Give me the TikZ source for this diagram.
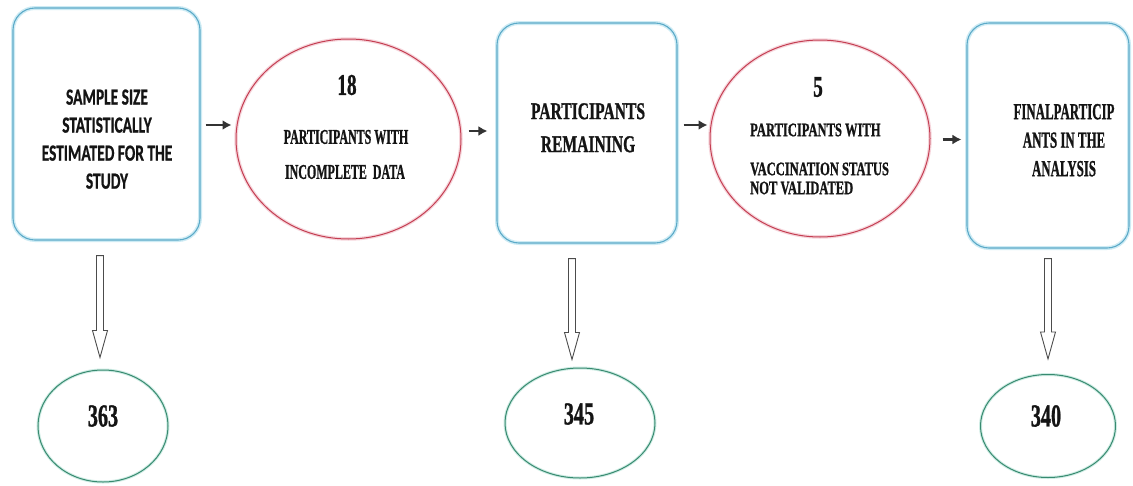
\documentclass[tikz,border=0pt]{standalone}
\usepackage{graphicx}
\usepackage{fontspec}
\setmainfont{Liberation Serif}[BoldFeatures={FakeBold=1.2}]
\newfontfamily\boxsans{Carlito}[BoldFeatures={FakeBold=1.0}]
\usetikzlibrary{arrows.meta,calc,shapes.geometric}

\definecolor{boxline}{RGB}{92,170,200}
\definecolor{boxglow}{RGB}{205,235,244}
\definecolor{dropline}{RGB}{196,62,82}
\definecolor{dropglow}{RGB}{246,214,220}
\definecolor{countline}{RGB}{56,138,112}
\definecolor{countglow}{RGB}{206,236,228}

% condensed multi-line text
\newcommand\squeeze[2]{\scalebox{#1}[1]{\begin{tabular}{@{}c@{}}#2\end{tabular}}}
\newcommand\squeezeline[2]{\scalebox{#1}[1]{#2}}

% hollow downward arrow between a stage box and its count
\newcommand\hollowdown[5]{%
  \draw[hollow] let \p1=(#1.south), \p2=(#2.north) in
    (#3pt-3.5pt,\y1-#4pt) -- (#3pt-3.5pt,\y2+#5pt+27pt) -- (#3pt-7.5pt,\y2+#5pt+27pt)
    -- (#3pt,\y2+#5pt) -- (#3pt+7.5pt,\y2+#5pt+27pt) -- (#3pt+3.5pt,\y2+#5pt+27pt)
    -- (#3pt+3.5pt,\y1-#4pt) -- cycle;}

\tikzset{
  stagebox/.style={rectangle, draw=boxline, line width=1.1pt, rounded corners=22pt,
    preaction={draw=boxglow, line width=4pt}, inner sep=0pt},
  dropell/.style={ellipse, draw=dropline, line width=1pt,
    preaction={draw=dropglow, line width=3.5pt}, inner sep=0pt},
  countell/.style={ellipse, draw=countline, line width=1pt,
    preaction={draw=countglow, line width=3pt}, inner sep=0pt},
  flow/.style={-{Latex[length=9pt,width=10pt]}, line width=2.6pt, black!80},
  hollow/.style={draw=black!70, line width=0.9pt, fill=white},
  txt/.style={inner sep=0pt, font=\bfseries, text=black!92},
}

\begin{document}
\begin{tikzpicture}[x=1pt,y=-1pt]
  \useasboundingbox[fill=white] (0,0) rectangle (1133,485);

  % stage boxes
  \node[stagebox, minimum width=187pt, minimum height=232pt] (b1) at (106.5,124) {};
  \node[stagebox, minimum width=180pt, minimum height=220pt] (b2) at (587,133) {};
  \node[stagebox, minimum width=162pt, minimum height=225pt] (b3) at (1048,135.5) {};

  % exclusion ellipses
  \node[dropell, minimum width=225pt, minimum height=200pt] (e1) at (348.5,139) {};
  \node[dropell, minimum width=220pt, minimum height=197pt] (e2) at (820,138.5) {};

  % counts
  \node[countell, minimum width=130pt, minimum height=112pt] (c1) at (103,426) {};
  \node[countell, minimum width=150pt, minimum height=110pt] (c2) at (580,423) {};
  \node[countell, minimum width=135pt, minimum height=103pt] (c3) at (1048,426) {};

  % box texts
  \node[txt, font=\boxsans\bfseries\fontsize{23}{28}\selectfont] (b1t) at (107,141)
    {\squeeze{0.67}{SAMPLE SIZE\\ STATISTICALLY\\ ESTIMATED FOR THE\\ STUDY}};
  \node[txt, font=\bfseries\fontsize{24}{33}\selectfont] (b2t) at (588,129)
    {\squeeze{0.65}{PARTICIPANTS\\ REMAINING}};
  \node[txt, font=\bfseries\fontsize{23}{28.5}\selectfont] (b3t) at (1064,142)
    {\squeeze{0.56}{FINALPARTICIP\\ ANTS IN THE\\ ANALYSIS}};

  % ellipse texts
  \node[txt, font=\bfseries\fontsize{30}{32}\selectfont] (e1n) at (347,85)
    {\squeezeline{0.64}{18}};
  \node[txt, font=\bfseries\fontsize{21}{24}\selectfont] (e1a) at (346,137)
    {\squeezeline{0.57}{PARTICIPANTS WITH}};
  \node[txt, font=\bfseries\fontsize{21}{24}\selectfont] (e1b) at (345,172)
    {\squeezeline{0.57}{INCOMPLETE \ DATA}};

  \node[txt, font=\bfseries\fontsize{30}{32}\selectfont] (e2n) at (818,87)
    {\squeezeline{0.64}{5}};
  \node[txt, font=\bfseries\fontsize{19}{22}\selectfont, anchor=west] (e2a) at (750,130)
    {\squeezeline{0.66}{PARTICIPANTS WITH}};
  \node[txt, font=\bfseries\fontsize{19}{22}\selectfont, anchor=west] (e2b) at (750,169)
    {\squeezeline{0.66}{VACCINATION STATUS}};
  \node[txt, font=\bfseries\fontsize{19}{22}\selectfont, anchor=west] (e2c) at (750,188)
    {\squeezeline{0.66}{NOT VALIDATED}};

  % count texts
  \node[txt, font=\bfseries\fontsize{32}{34}\selectfont] (c1t) at (103,416)
    {\squeezeline{0.63}{363}};
  \node[txt, font=\bfseries\fontsize{32}{34}\selectfont] (c2t) at (579,414)
    {\squeezeline{0.63}{345}};
  \node[txt, font=\bfseries\fontsize{32}{34}\selectfont] (c3t) at (1046,416)
    {\squeezeline{0.63}{340}};

  % flow arrows
  \draw[flow] ([xshift=5pt,yshift=-1pt]b1.east) -- ([xshift=-4pt,yshift=-1pt]b1.east -| e1.west);
  \draw[flow] ([xshift=7pt,yshift=8pt]e1.east) -- ([xshift=-9pt,yshift=8pt]e1.east -| b2.west);
  \draw[flow] ([xshift=6pt,yshift=8pt]b2.east) -- ([xshift=-2pt,yshift=8pt]b2.east -| e2.west);
  \draw[flow] ([xshift=12pt,yshift=-1pt]e2.east) -- ([xshift=-5pt,yshift=-1pt]e2.east -| b3.west);

  % hollow arrows to the counts
  \hollowdown{b1}{c1}{100}{15}{12}
  \hollowdown{b2}{c2}{572}{15}{8}
  \hollowdown{b3}{c3}{1048}{10}{15}
\end{tikzpicture}
\end{document}
